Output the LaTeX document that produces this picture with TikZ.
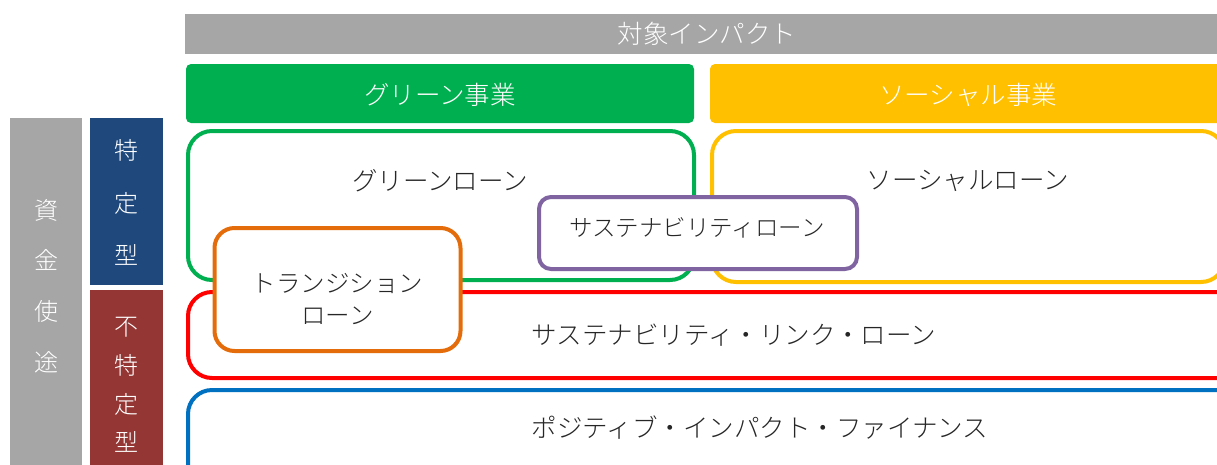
\documentclass[tikz,border=0pt]{standalone}
\usepackage{fontspec}
\setmainfont{Noto Sans CJK JP}[UprightFont={* Light}]
\definecolor{hdrgrey}{HTML}{A6A6A6}
\definecolor{grn}{HTML}{00B050}
\definecolor{ylw}{HTML}{FFC000}
\definecolor{navy}{HTML}{1F497D}
\definecolor{maroon}{HTML}{943634}
\definecolor{rd}{HTML}{FF0000}
\definecolor{bl}{HTML}{0070C0}
\definecolor{orng}{HTML}{E46C0A}
\definecolor{prpl}{HTML}{8064A2}
\definecolor{txtgray}{HTML}{262626}
\begin{document}
\begin{tikzpicture}[x=1pt,y=-1pt,
  bar/.style={rectangle, inner sep=0pt, fill=hdrgrey, text=white, font=\fontsize{25.5}{28}\selectfont},
  hdr/.style={rectangle, rounded corners=5pt, inner sep=0pt, text=white, font=\fontsize{25.5}{28}\selectfont},
  hdrtxt/.style={text=white, font=\fontsize{25.5}{28}\selectfont, inner sep=0pt},
  col/.style={rectangle, inner sep=0pt},
  coltxt/.style={text=white, align=center, inner sep=0pt},
  loanbox/.style={rectangle, draw, line width=4pt, fill=white, inner sep=0pt, rounded corners=24pt},
  txt/.style={text=txtgray, font=\fontsize{25.5}{32}\selectfont, inner sep=0pt, align=center}
]
\useasboundingbox (0,0) rectangle (1217,464);
\fill[white] (0,0) rectangle (1217,464);
\begin{scope}
\clip (0,0) rectangle (1217,464);
% top bar
\node[bar, minimum width=1044pt, minimum height=40pt] (impact) at (707,34) {対象インパクト};
% headers
\node[hdr, fill=grn, minimum width=508pt, minimum height=59pt] (greenhdr) at (440,93.5) {};
\node[hdrtxt] (greenhdrt) at (440,95) {グリーン事業};
\node[hdr, fill=ylw, minimum width=516pt, minimum height=59pt] (socialhdr) at (968,93.5) {};
\node[hdrtxt] (socialhdrt) at (968,95) {ソーシャル事業};
% left columns
\node[col, fill=hdrgrey, minimum width=72pt, minimum height=362pt] (usecol) at (46,299) {};
\node[coltxt, font=\fontsize{24}{50.7}\selectfont] (uset) at (46,286) {資\\金\\使\\途};
\node[col, fill=navy, minimum width=73pt, minimum height=167pt] (speccol) at (126.5,201.5) {};
\node[coltxt, font=\fontsize{24}{52.5}\selectfont] (spect) at (126.5,202.5) {特\\定\\型};
\node[col, fill=maroon, minimum width=73pt, minimum height=190pt] (unspeccol) at (126.5,385) {};
\node[coltxt, font=\fontsize{24}{38.7}\selectfont] (unspect) at (126.5,385) {不\\特\\定\\型};
% loan boxes
\node[loanbox, draw=grn, minimum width=506pt, minimum height=149pt] (greenloan) at (441,205.5) {};
\node[txt] (greenloant) at (440,181) {グリーンローン};
\node[loanbox, draw=ylw, minimum width=513pt, minimum height=151pt] (socialloan) at (968.5,206.5) {};
\node[txt] (socialloant) at (968,181) {ソーシャルローン};
\node[loanbox, draw=rd, minimum width=1092pt, minimum height=86pt] (sll) at (734,335) {};
\node[txt] (sllt) at (734,335) {サステナビリティ・リンク・ローン};
\node[loanbox, draw=bl, minimum width=1146pt, minimum height=150pt] (pif) at (761,465) {};
\node[txt] (pift) at (760,428) {ポジティブ・インパクト・ファイナンス};
% overlapping boxes
\node[loanbox, draw=orng, rounded corners=20pt, minimum width=246pt, minimum height=123pt] (trans) at (337.5,289.5) {};
\node[txt, font=\fontsize{24.5}{32}\selectfont] (transt) at (337.5,299) {トランジション\\ローン};
\node[loanbox, draw=prpl, rounded corners=12pt, minimum width=318pt, minimum height=72pt] (susloan) at (698,233) {};
\node[txt, font=\fontsize{23.5}{30}\selectfont] (susloant) at (697,228) {サステナビリティローン};
\end{scope}
\end{tikzpicture}
\end{document}
